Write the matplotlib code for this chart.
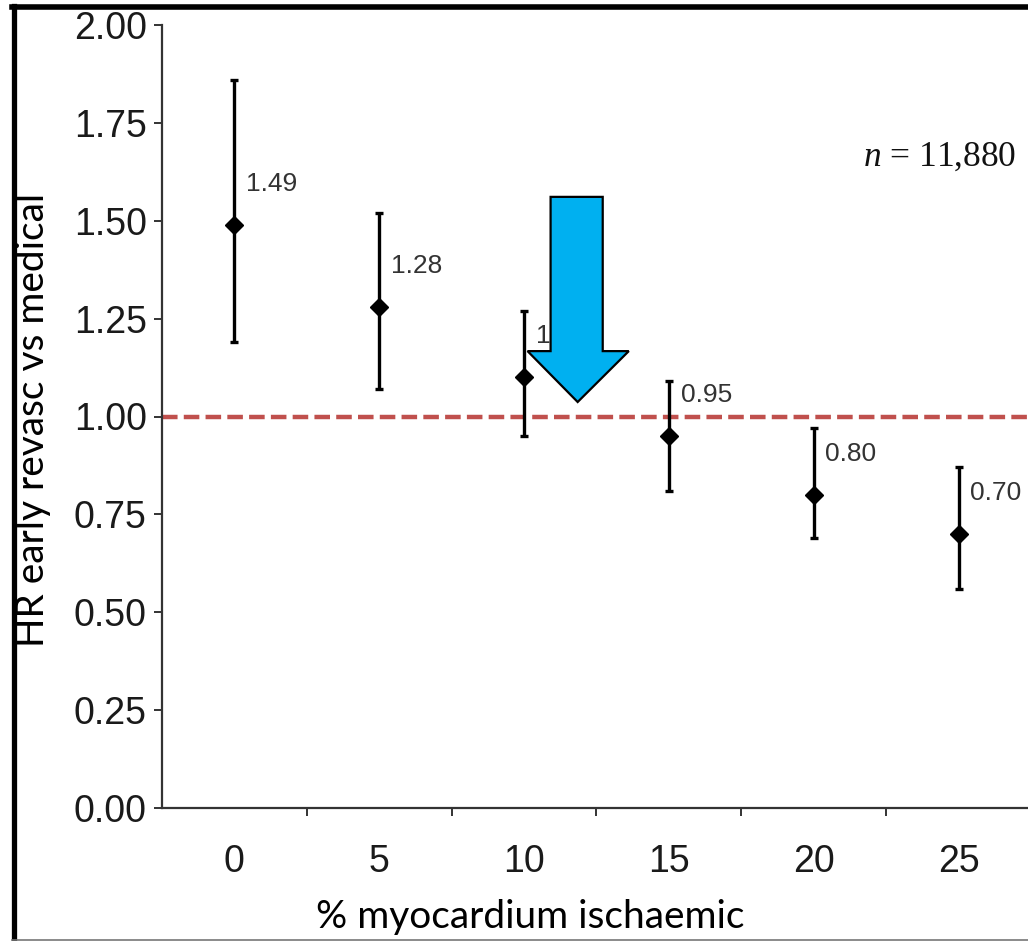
import matplotlib
matplotlib.use("Agg")
import matplotlib.pyplot as plt
from matplotlib.patches import Polygon
from matplotlib.lines import Line2D

# data
ischaemia = ["0", "5", "10", "15", "20", "25"]
hr = [1.49, 1.28, 1.10, 0.95, 0.80, 0.70]
ci_low = [1.19, 1.07, 0.95, 0.81, 0.69, 0.56]
ci_high = [1.86, 1.52, 1.27, 1.09, 0.97, 0.87]
hr_labels = ["1.49", "1.28", "1.10", "0.95", "0.80", "0.70"]
y_ticks = [0.00, 0.25, 0.50, 0.75, 1.00, 1.25, 1.50, 1.75, 2.00]
n_text = r"$n$ = 11,880"

plt.rcParams["mathtext.fontset"] = "custom"
plt.rcParams["mathtext.it"] = "Liberation Serif:italic"
plt.rcParams["mathtext.rm"] = "Liberation Serif"

W, H = 1028, 941
fig = plt.figure(figsize=(W / 100, H / 100), dpi=100)
ax = fig.add_axes([162 / W, 1 - 808 / H, (1031 - 162) / W, (808 - 25) / H])

x = list(range(len(ischaemia)))
err_lo = [v - l for v, l in zip(hr, ci_low)]
err_hi = [h - v for v, h in zip(hr, ci_high)]

# reference line
ax.axhline(1.0, color="#C0504D", lw=3.2, dashes=(3.5, 1.4), zorder=1)

ax.errorbar(x, hr, yerr=[err_lo, err_hi], fmt="D", color="black", ms=9.5,
            elinewidth=2.4, capsize=3, capthick=2.4, zorder=3)

for xi, v, lab in zip(x, hr, hr_labels):
    ax.text(xi + 0.08, v + 0.105, lab, fontsize=19, color="#333333",
            family="Liberation Sans", ha="left", va="center", zorder=2)

ax.set_xlim(-0.5, len(ischaemia) - 0.5)
ax.set_ylim(0, 2)
ax.set_yticks(y_ticks)
ax.set_yticklabels([f"{t:.2f}" for t in y_ticks])
ax.set_xticks(x)
ax.set_xticklabels(ischaemia)
ax.set_xticks([i + 0.5 for i in x[:-1]], minor=True)

for s in ["top", "right"]:
    ax.spines[s].set_visible(False)
for s in ["left", "bottom"]:
    ax.spines[s].set_color("#333333")
    ax.spines[s].set_linewidth(1.6)

ax.tick_params(axis="y", length=6, width=1.4, color="#333333", pad=5,
               labelsize=27, labelcolor="#1a1a1a")
ax.tick_params(axis="x", which="minor", length=6, width=1.4, color="#333333")
ax.xaxis.set_tick_params(which="major", length=0, pad=26,
                         labelsize=27, labelcolor="#1a1a1a")
for lab in ax.get_xticklabels() + ax.get_yticklabels():
    lab.set_family("Liberation Sans")

# arrow annotation overlay
arrow_pts = [(2.183, 1.561), (2.543, 1.561), (2.543, 1.167), (2.723, 1.167),
             (2.37, 1.037), (2.024, 1.167), (2.183, 1.167)]
ax.add_patch(Polygon(arrow_pts, closed=True, facecolor="#00B0F0",
                     edgecolor="black", lw=1.6, zorder=5))

fig.text(863 / W, 1 - 157 / H, n_text, fontsize=25.5, family="Liberation Serif",
         ha="left", va="center", color="#111111")

fig.text(33 / W, 1 - 420 / H, "HR early revasc vs medical", rotation=90,
         fontsize=28, family="Lato", ha="center", va="center", color="black")
fig.text(530 / W, 1 - 917 / H, "% myocardium ischaemic", fontsize=28,
         family="Lato", ha="center", va="center", color="black")

# slide frame
fig.add_artist(Line2D([14 / W, 14 / W], [1 - 6 / H, 0], color="black", lw=3.8,
                      transform=fig.transFigure))
fig.add_artist(Line2D([12 / W, 1], [1 - 6.5 / H, 1 - 6.5 / H], color="black", lw=4,
                      transform=fig.transFigure))
fig.add_artist(Line2D([12 / W, 1], [1 / H, 1 / H], color="#777777", lw=1.2,
                      transform=fig.transFigure))

fig.savefig("out.png", dpi=100)
